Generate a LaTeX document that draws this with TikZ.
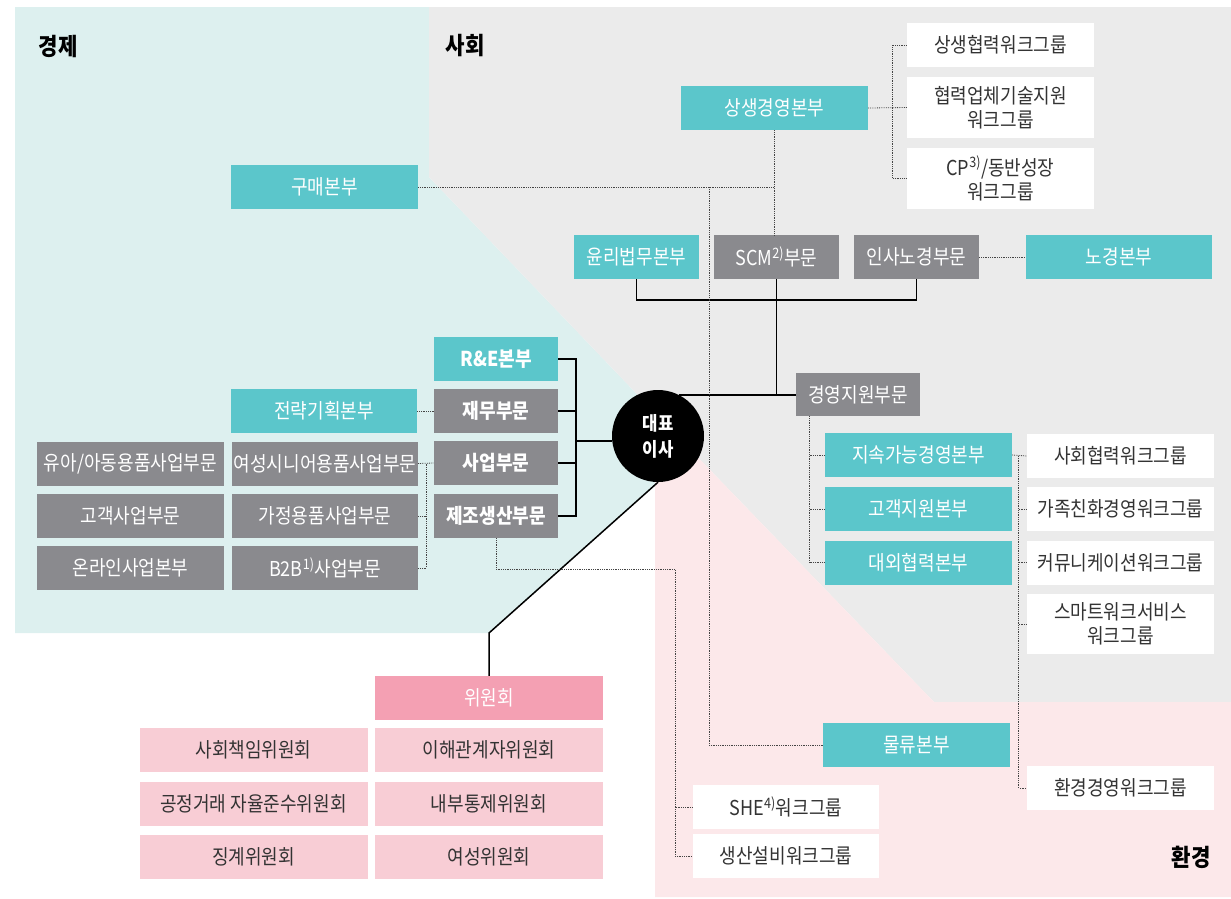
\documentclass[tikz,border=0pt]{standalone}
\usepackage{fontspec}
\setmainfont{Noto Sans CJK KR}[FakeStretch=0.88]
\usepackage{tikz}
\usetikzlibrary{calc}

\definecolor{mintbg}{HTML}{DDF0EF}
\definecolor{graybg}{HTML}{EBEBEB}
\definecolor{pinkbg}{HTML}{FCE8EA}
\definecolor{teal1}{HTML}{5BC6CB}
\definecolor{grayb}{HTML}{8A8A8E}
\definecolor{pinkd}{HTML}{F4A0B3}
\definecolor{pinkl}{HTML}{F8CDD5}
\definecolor{txt}{HTML}{333333}
\definecolor{lnk}{HTML}{444444}

\begin{document}
\begin{tikzpicture}[x=1pt,y=-1pt,
    orgbox/.style={rectangle, inner sep=0pt, minimum height=44pt, align=center,
      font=\fontsize{20.5}{24}\selectfont},
    tealbox/.style={orgbox, fill=teal1, text=white},
    graybox/.style={orgbox, fill=grayb, text=white},
    headbox/.style={orgbox, minimum width=124pt, text=white,
      font=\fontsize{20.5}{24}\selectfont\bfseries},
    wgbox/.style={orgbox, fill=white, text=txt, minimum width=187pt},
    cmtbox/.style={orgbox, fill=pinkl, text=txt, minimum width=228pt},
    area/.style={font=\fontsize{24}{28}\selectfont\bfseries, text=black},
    link/.style={densely dotted, line width=0.8pt, draw=lnk},
    tie/.style={line width=1.5pt, draw=black}]

    \useasboundingbox (0,0) rectangle (1231,898);

    % three areas
    \fill[mintbg] (15,7) -- (429,7) -- (429,177) -- (658,416) -- (658,482)
        -- (489,633) -- (15,633) -- cycle;
    \fill[graybg] (429,7) -- (1231,7) -- (1231,702) -- (934,702) -- (658,416)
        -- (429,177) -- cycle;
    \fill[pinkbg] (658,416) -- (934,702) -- (1231,702) -- (1231,897) -- (655,897)
        -- (655,470) -- cycle;

    \node[area] (econ) at (58,46) {경제};
    \node[area] (soc) at (465,46) {사회};
    \node[area] (envr) at (1191,857) {환경};

    % CEO
    \node[circle, fill=black, minimum size=92pt, inner sep=0pt, text=white, align=center,
      font=\fontsize{19}{26}\selectfont\bfseries] (ceo) at (658,436) {대표\\이사};

    % upper part
    \node[tealbox, minimum width=187pt] (gumae) at (324.5,187) {구매본부};
    \node[tealbox, minimum width=187pt] (sangsaeng) at (774.5,108) {상생경영본부};
    \node[wgbox] (coop) at (1000.5,45) {상생협력워크그룹};
    \node[wgbox, minimum height=61pt] (partner) at (1000.5,107.5) {협력업체기술지원\\워크그룹};
    \node[wgbox, minimum height=61pt] (cpwg) at (1000.5,178.5) {CP\textsuperscript{3)}/동반성장\\워크그룹};
    \node[tealbox, minimum width=125pt] (ethics) at (636.5,257) {윤리법무본부};
    \node[graybox, minimum width=125pt] (scm) at (776.5,257) {SCM\textsuperscript{2)}부문};
    \node[graybox, minimum width=125pt] (hr) at (916.5,257) {인사노경부문};
    \node[tealbox, minimum width=186pt] (labor) at (1119,257) {노경본부};

    % management support
    \node[graybox, minimum width=124pt, minimum height=43pt] (mgmt) at (858,394.5) {경영지원부문};
    \node[tealbox, minimum width=187pt] (sustain) at (918.5,455) {지속가능경영본부};
    \node[tealbox, minimum width=187pt] (cs) at (918.5,509) {고객지원본부};
    \node[tealbox, minimum width=187pt] (extern) at (918.5,562.5) {대외협력본부};
    \node[wgbox] (socwg) at (1120.5,456) {사회협력워크그룹};
    \node[wgbox] (famwg) at (1120.5,509) {가족친화경영워크그룹};
    \node[wgbox] (comwg) at (1120.5,562.5) {커뮤니케이션워크그룹};
    \node[wgbox, minimum height=60pt] (smartwg) at (1120.5,624) {스마트워크서비스\\워크그룹};
    \node[wgbox] (envwg) at (1120.5,788) {환경경영워크그룹};
    \node[tealbox, minimum width=187pt] (logis) at (916.5,745) {물류본부};
    \node[wgbox, minimum width=186pt] (shewg) at (786,807) {SHE\textsuperscript{4)}워크그룹};
    \node[wgbox, minimum width=186pt] (facwg) at (786,856) {생산설비워크그룹};

    % business side
    \node[headbox, fill=teal1] (rne) at (496,359) {R\&E본부};
    \node[headbox, fill=grayb] (fin) at (496,411) {재무부문};
    \node[headbox, fill=grayb] (biz) at (496,463) {사업부문};
    \node[headbox, fill=grayb] (mfg) at (496,516) {제조생산부문};
    \node[tealbox, minimum width=186pt] (strat) at (324,411) {전략기획본부};
    \node[graybox, minimum width=186pt] (senior) at (325,463.5) {여성시니어용품사업부문};
    \node[graybox, minimum width=186pt] (home) at (325,516) {가정용품사업부문};
    \node[graybox, minimum width=186pt] (btob) at (325,568) {B2B\textsuperscript{1)}사업부문};
    \node[graybox, minimum width=187pt] (kids) at (130.5,463.5) {유아/아동용품사업부문};
    \node[graybox, minimum width=187pt] (custbiz) at (130.5,516) {고객사업부문};
    \node[graybox, minimum width=187pt] (online) at (130.5,568) {온라인사업본부};

    % committees
    \node[orgbox, fill=pinkd, text=white, minimum width=228pt] (cmt) at (489,698) {위원회};
    \node[cmtbox] (csr) at (253.5,750) {사회책임위원회};
    \node[cmtbox] (stake) at (489,750) {이해관계자위원회};
    \node[cmtbox] (fair) at (253.5,804) {공정거래 자율준수위원회};
    \node[cmtbox] (audit) at (489,804) {내부통제위원회};
    \node[cmtbox] (discip) at (253.5,857) {징계위원회};
    \node[cmtbox] (women) at (489,857) {여성위원회};

    % solid lines
    \draw[tie] (rne.east) -- ++(18,0) |- (mfg.east);
    \draw[tie] (fin.east) -- ++(18,0);
    \draw[tie] (biz.east) -- ++(18,0);
    \coordinate (hub) at (576,441);
    \draw[tie] (hub) -- (hub -| ceo.west);
    \draw[tie] (ethics.south) -- ++(0,21) -| (hr.south);
    \draw[tie] (scm.south) -- (scm.south |- mgmt.west);
    \draw[tie] (ceo.63) -- (ceo.63 -| mgmt.west);
    \coordinate (bend) at (489,633);
    \draw[tie] (ceo.south) -- (bend) -- (cmt.north);

    % dotted lines
    \draw[link] (sangsaeng.south) -- (sangsaeng.south |- scm.north);
    \draw[link] (gumae.east) -- (gumae.east -| sangsaeng.south);
    \coordinate (logi) at (709,187);
    \draw[link] (logi) |- (logis.west);
    \draw[link] (sangsaeng.east) -- (partner.west);
    \draw[link] (coop.west) -- ++(-14,0) |- (cpwg.west);
    \draw[link] (hr.east) -- (labor.west);
    \draw[link] (strat.east) -- (fin.west);
    \draw[link] (senior.east) -- (biz.west);
    \draw[link] (btob.east) -- ++(8,0) coordinate (bk) -- (bk |- senior.east);
    \draw[link] (home.east) -- ++(8,0);
    \draw[link] ([xshift=14pt]mgmt.south west) |- (extern.west);
    \draw[link] (sustain.west) -- ++(-15,0);
    \draw[link] (cs.west) -- ++(-15,0);
    \draw[link] (sustain.east) -- (socwg.west);
    \draw[link] ([xshift=-8pt]socwg.west) |- (envwg.west);
    \draw[link] (famwg.west) -- ++(-8,0);
    \draw[link] (comwg.west) -- ++(-8,0);
    \draw[link] (smartwg.west) -- ++(-8,0);
    \coordinate (shehub) at (675,569);
    \draw[link] (mfg.south) |- (shehub) |- (facwg.west);
    \draw[link] (shewg.west) -- (shewg.west -| shehub);
\end{tikzpicture}
\end{document}
